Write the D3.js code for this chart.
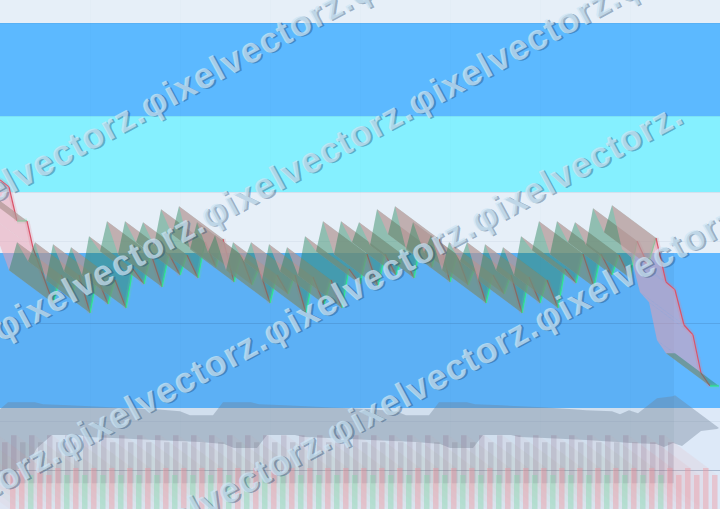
<!DOCTYPE html>
<html><head><meta charset="utf-8">
<script src="https://cdn.jsdelivr.net/npm/d3@7"></script>
<style>html,body{margin:0;padding:0;background:#fff;overflow:hidden}svg{display:block}</style>
</head><body><svg id="c" width="720" height="509"></svg>
<script>
const zigTimes = [-9,0,9,17,27,33,53,
 61,72,79,90,97,108,115,126,133,144,151,162,169,180,187,198,205,216,223,234,241,252,259,270,
 277,288,295,306,313,324,331,342,349,360,367,378,385,396,403,414,421,432,439,450,457,468,475,486,
 493,504,511,522,529,540,547,558,565,576,583,594,601,612,619,630,637,648,656,666,675,684,693,701,710,719];
const zigLevels = [332,329,322,288,288,261,206,
 234,215,234,196,232,205,229,201,240,225,255,222,255,234,254,231,267,242,270,227,254,224,241,206,
 234,215,234,196,232,205,229,201,240,225,255,222,255,234,254,231,267,242,270,227,254,224,241,206,
 234,215,234,196,232,206,229,201,240,226,255,222,255,234,254,231,268,244,271,227,219,184,174,136,123,123];
const bandTimes = [-6,13,27,37,52,79,87,113,154,200,224,234,257,267,295,303,329,370,416,440,450,473,483,511,519,545,586,617,630,656,664,673,682,701,717,719];
const bandLevels = [33,37,44,61,74,74,72,71,69,67,65,61,61,74,74,72,71,69,67,65,61,61,74,74,72,71,69,67,66,65,62,66,63,78,80,81];
const barLevels = [34,41,34,41,34,41,34,41,34,41,34,41,34,41,34,41,34,41,34,41,34,41,34,41,34,41,34,41,34,41,34,41,34,41,34,41,34,41,34,41,34,41,34,41,34,41,34,41,34,41,34,41,34,41,34,41,34,41,34,41,34,41,34,41,34,41,34,41,34,41,34,41,34,41,34,41,34,41,34];
const barSides = ["d","d","u","d","d","d","u","d","u","d","u","d","u","d","u","d","u","d","u","d","u","d","u","d","u","d","u","d","u","d","u","d","u","d","u","d","u","d","u","d","u","d","u","d","u","d","u","d","u","d","u","d","u","d","u","d","u","d","u","d","u","d","u","d","u","d","u","d","u","d","u","d","u","d","d","d","d","d","d"];
const watermarkWord = "φixelvectorz.";

const svg = d3.select("#c");
const x = d3.scaleLinear().domain([0,720]).range([0,720]);
const y = d3.scaleLinear().domain([0,509]).range([509,0]);
const dx=-44, dy=-32.7;

// bands
[[0,23,"#e6eff8"],[23,116,"#5cb9ff"],[116,192,"#85f0ff"],[192,253,"#e6eff8"],[253,408,"#61b8ff"],[408,509,"#dde9f8"]]
 .forEach(b=>svg.append("rect").attr("x",0).attr("y",b[0]).attr("width",720).attr("height",b[1]-b[0]).attr("fill",b[2]));
[23,116,192].forEach(p=>svg.append("rect").attr("x",0).attr("y",p).attr("width",720).attr("height",1).attr("fill","rgba(60,110,160,.1)"));
// plot shade
svg.append("rect").attr("x",0).attr("y",253).attr("width",674).attr("height",230).attr("fill","rgba(0,30,60,.05)");
// grid
[[241,.05],[323,.14],[421,.06],[470,.26]].forEach(g=>svg.append("rect").attr("x",0).attr("y",g[0]).attr("width",720).attr("height",1).attr("fill",`rgba(20,50,90,${g[1]})`));
d3.range(90,720,90).forEach(v=>svg.append("rect").attr("x",v).attr("y",0).attr("width",1).attr("height",509).attr("fill","rgba(20,60,100,.012)"));

// volume line band
const bandPts = bandTimes.map((t,i)=>[x(t),y(bandLevels[i])]);
const bandPoly = bandPts.concat(bandPts.slice().reverse().map(p=>[p[0]+dx,p[1]+dy]));
svg.append("path").attr("d",d3.line()(bandPoly)+"Z").attr("fill","rgba(110,130,150,.38)");

// bars
const barX = i=>x(10+9*i), barW=5.5;
const colD=[240,150,160], colU=[130,215,170];
barLevels.forEach((lv,i)=>{
  const c = barSides[i]==="d"?colD:colU, t=y(lv), b=y(-7), l=barX(i), r=l+barW;
  svg.append("path").attr("d",d3.line()([[l+dx,t+dy],[r+dx,t+dy],[r,t],[r,b],[l,b],[l+dx,b+dy]])+"Z").attr("fill",`rgba(${c},.06)`);
});
barLevels.forEach((lv,i)=>{
  const t=y(lv), b=y(-7), l=barX(i);
  svg.append("rect").attr("x",l+dx).attr("y",t+dy).attr("width",barW).attr("height",b-t).attr("fill","rgba(120,90,125,.17)");
});
barLevels.forEach((lv,i)=>{
  const c = barSides[i]==="d"?colD:colU, t=y(lv), b=y(-7), l=barX(i);
  svg.append("rect").attr("x",l).attr("y",t).attr("width",barW).attr("height",b-t).attr("fill",`rgba(${c},.4)`);
});

// price ribbon
const pts = zigTimes.map((t,i)=>[x(t),y(zigLevels[i])]);
for(let i=1;i<pts.length;i++){
  const a=pts[i-1], b=pts[i], down=b[1]>a[1]+1;
  const fill = down?"rgba(240,160,175,.5)":"rgba(40,130,90,.45)";
  const stroke = down?"#d9546a":"#2ee88e";
  svg.append("path").attr("d",d3.line()([a,b,[b[0]+dx,b[1]+dy],[a[0]+dx,a[1]+dy]])+"Z").attr("fill",fill);
  svg.append("path").attr("d",d3.line()([a,b])).attr("stroke",down?"rgba(230,120,140,.2)":"rgba(90,220,160,.2)").attr("stroke-width",5).attr("fill","none");
  svg.append("path").attr("d",d3.line()([a,b])).attr("stroke",stroke).attr("stroke-width",1.2).attr("fill","none");
}

// watermark
const wordLen = 235, wmAngle = -28.5;
const defs = svg.append("defs");
[[150,105,5],[210,215,5],[65,445,3],[336,432,5]].forEach((a,r)=>{
  const t = d3.range(7).map(()=>watermarkWord).join("");
  const id="wm"+r;
  defs.append("clipPath").attr("id",id).append("rect").attr("x",-2*wordLen-20).attr("y",-60).attr("width",(a[2]+2)*wordLen+14).attr("height",120);
  const g = svg.append("g").attr("transform",`translate(${a[0]},${a[1]}) rotate(${wmAngle})`).attr("clip-path",`url(#${id})`);
  [[1.6,1.6,"rgba(30,70,110,.4)"],[0,0,"rgba(205,230,245,.72)"]].forEach(s=>{
    g.append("text").attr("x",-2*wordLen-11+s[0]).attr("y",12+s[1])
      .attr("font-family","Liberation Sans").attr("font-weight","bold").attr("font-size",36)
      .attr("letter-spacing",1.1)
      .attr("fill",s[2]).text(t);
  });
});
</script></body></html>
